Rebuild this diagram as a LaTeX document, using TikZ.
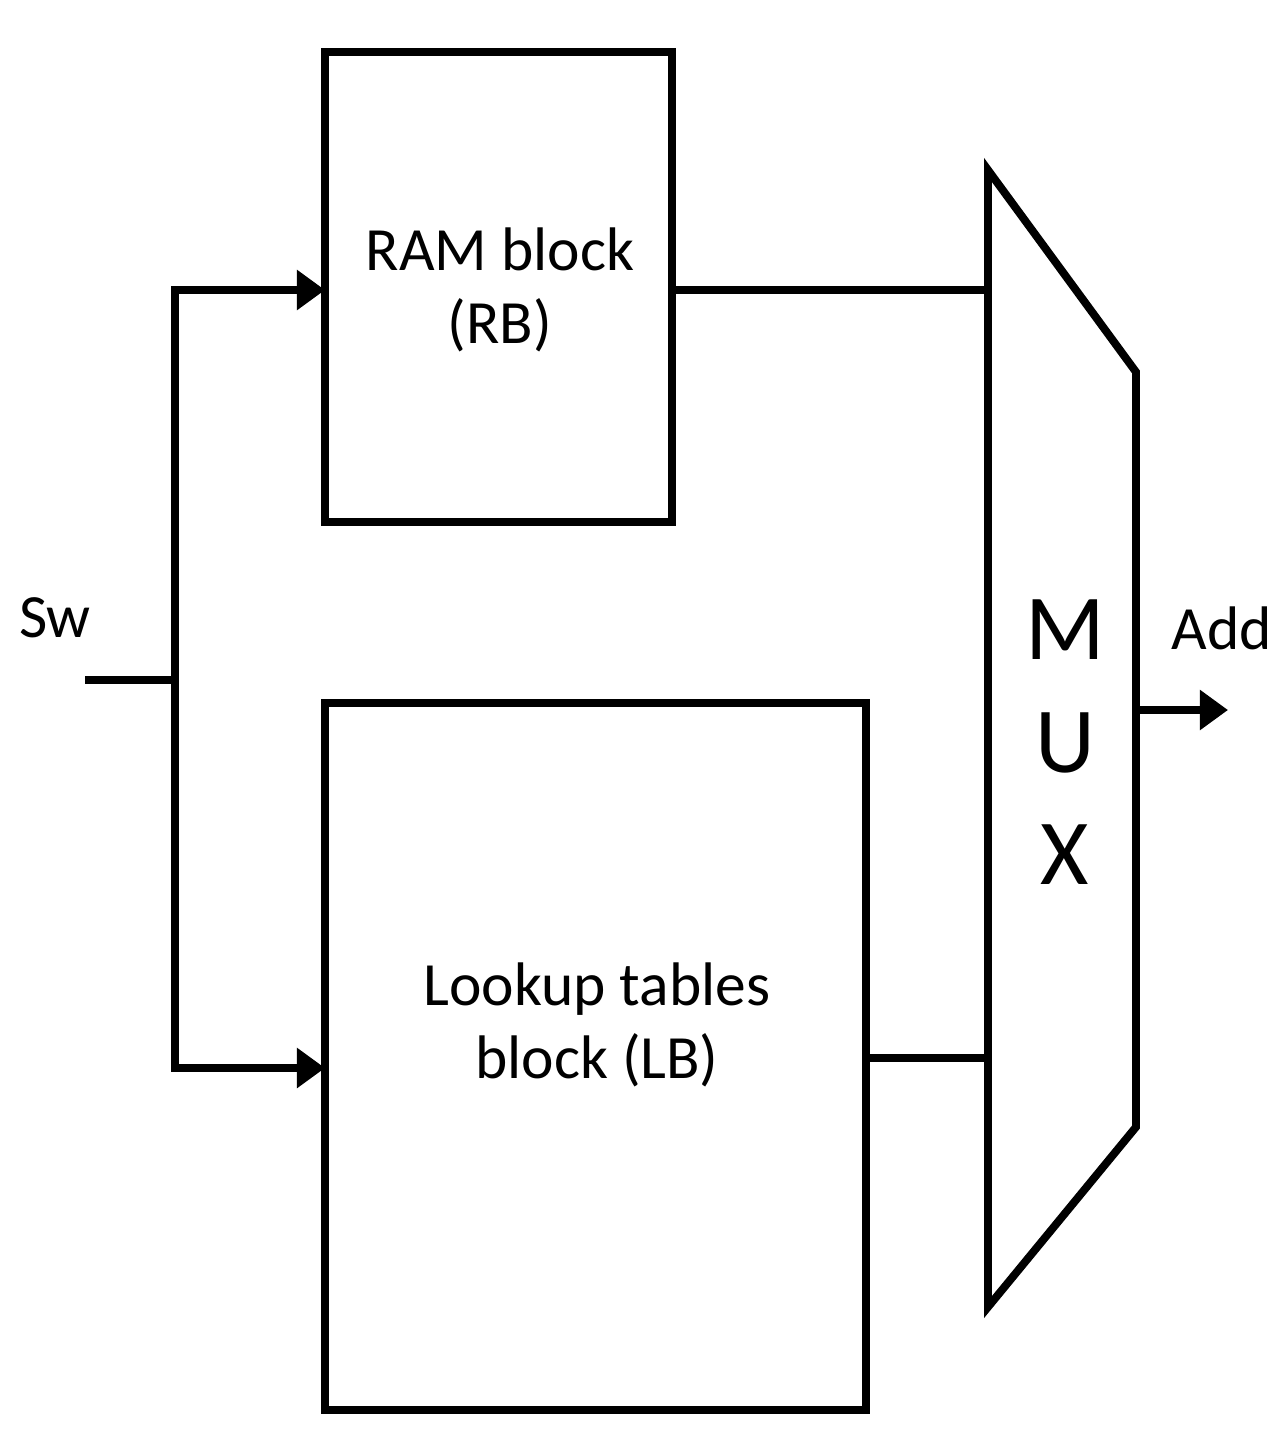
\documentclass[tikz,border=0pt]{standalone}
\usepackage{fontspec}
\setmainfont{Carlito}
\usetikzlibrary{arrows.meta}
\begin{document}
\begin{tikzpicture}[x=0.02cm,y=-0.02cm,
  wire/.style={line width=4.5pt},
  arr/.style={wire,-{Triangle[length=16pt,width=22pt]}},
  box/.style={draw,line width=4.5pt,inner sep=0pt,outer sep=0pt},
  lbl/.style={font=\fontsize{35}{42}\selectfont,align=center}]
\useasboundingbox (0,0) rectangle (1288,1455);
\node[box,minimum width=6.94cm,minimum height=9.4cm] (rb) at (498.5,287) {};
\node[box,minimum width=10.82cm,minimum height=14.14cm] (lb) at (595.5,1056.5) {};
\node[lbl] (rbt) at (500,290) {RAM block\\(RB)};
\node[lbl] (lbt) at (597,1025) {Lookup tables\\block (LB)};
\draw[line width=4.5pt,line join=miter] (988,170) -- (1136,372) -- (1136,1127) -- (988,1307) -- cycle;
\node[font=\fontsize{53}{60}\selectfont] (m) at (1065,630) {M};
\node[font=\fontsize{53}{60}\selectfont] (u) at (1065,743) {U};
\node[font=\fontsize{53}{60}\selectfont] (xx) at (1065,855) {X};
\node[lbl] (sw) at (55,618) {Sw};
\node[lbl] (add) at (1222,628) {Add};
\coordinate (in) at (85,680);
\coordinate (j) at (175,680);
\coordinate (jt) at (175,290);
\coordinate (jb) at (175,1068);
\coordinate (mt) at (988,290);
\coordinate (mb) at (988,1058);
\coordinate (mo) at (1136,710);
\coordinate (out) at (1228,710);
\draw[wire] (in) -- (j);
\draw[wire,line cap=rect] (jt) -- (jb);
\draw[arr] (jt) -- (rb.west |- jt);
\draw[arr] (jb) -- (lb.west |- jb);
\draw[wire] (rb.east |- mt) -- (mt);
\draw[wire] (lb.east |- mb) -- (mb);
\draw[arr] (mo) -- (out);
\end{tikzpicture}
\end{document}
